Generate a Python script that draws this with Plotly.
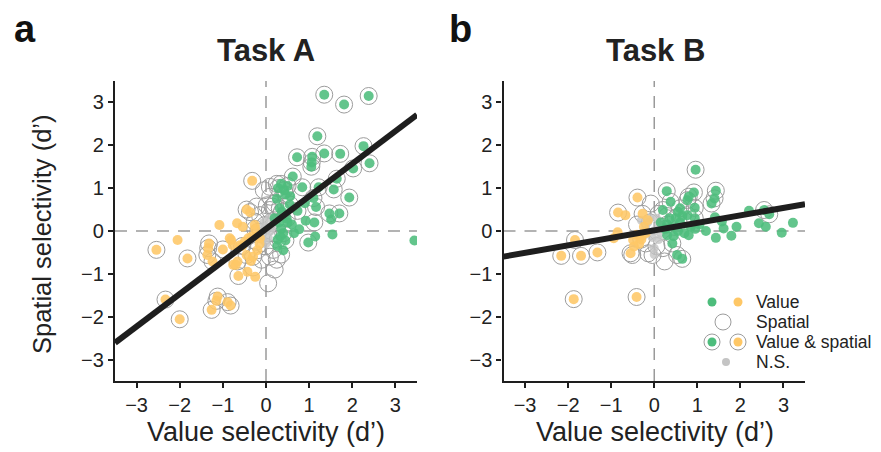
import plotly.graph_objects as go

W, H = 881, 452

# ---------------- Task A data ----------------
a_both_x = [1.35, 1.81, 2.38, 1.19, 2.26, 0.72, 1.07, 1.35, 1.72, 2.40, 1.06, 1.05, 2.02, 1.64, 0.62,
            1.57, 1.22, 0.84, 1.93, 1.10, 1.16, 1.47, 1.70, 1.12, 0.98, 0.73,
            0.28, 0.35, 0.42, 0.50, 0.45, 0.32, 0.37, 0.55, 0.30, 0.48, 0.27, 0.45, 0.40,
            -0.32, -0.45, -0.37, -2.54, -1.82, -1.32, -1.34, -1.36, -1.24, -1.00, -0.66, -0.64,
            -2.33, -2.00, -1.12, -1.15, -0.89, -0.82, -1.26, -0.45, -0.30, -0.20, -0.55, -0.25]
a_both_y = [3.18, 2.95, 3.15, 2.21, 1.98, 1.72, 1.73, 1.81, 1.80, 1.58, 1.60, 1.50, 1.46, 1.22, 1.27,
            0.97, 1.02, 1.02, 0.78, 0.77, 0.56, 0.41, 0.41, 0.20, -0.27, 0.47,
            1.00, 1.10, 0.95, 1.05, 0.85, 0.53, 0.45, 0.62, 0.20, 0.29, -0.20, -0.22, -0.05,
            1.17, 0.50, 0.44, -0.44, -0.64, -0.29, -0.40, -0.56, -0.71, -0.43, -0.71, -1.05,
            -1.60, -2.06, -1.53, -1.63, -1.66, -1.74, -1.84, -0.56, -0.60, -0.45, -0.35, 0.05]
a_value_x = [1.51, 0.92, 0.77, 1.54, 1.14, 3.44, 0.56, 0.50, 0.35, 0.33, 0.26, 0.60, 0.65, 0.20, 0.40,
             0.25, 0.90,
             -1.08, -0.67, -0.54, -2.05, -0.81, -0.77, -0.70, -0.43, -0.25, -0.84, -0.49, -0.41,
             -0.33, -0.22, -0.14, -0.26, -0.60, -0.76, -0.35, -0.15]
a_value_y = [0.27, 0.24, 0.04, -0.08, -0.13, -0.22, 0.81, 0.20, 0.05, -0.13, -0.35, 0.15, -0.05, 0.30, -0.45,
             0.75, 0.65,
             0.14, 0.18, 0.10, -0.21, -0.21, -0.33, -0.79, -0.95, -1.07, -0.17, -0.25, -0.17,
             -0.13, -0.13, -0.17, 0.14, -0.33, -0.79, -0.70, -0.30]
a_spatial_x = [-0.22, 0.02, 0.21, 0.09, -0.14, -0.26, -0.02, 0.13, -0.18, 0.05, -0.22, -0.02, 0.17,
               0.09, -0.10, 0.25, 0.05, 0.09, 0.25, 0.15, 0.10, -0.05, 0.20, -0.30, 0.35]
a_spatial_y = [0.57, 0.60, 0.64, 0.49, 0.37, 0.22, 0.14, 0.22, -0.02, -0.05, -0.25, -0.36, -0.44,
               -0.60, -0.67, -0.67, -1.22, 1.03, 1.10, 0.57, 0.80, 0.95, -0.90, -0.85, -0.55]
a_ns_x = [0.00, -0.10, 0.10, -0.05, 0.05, 0.15, -0.15, 0.00, 0.08, -0.08]
a_ns_y = [0.10, -0.05, 0.00, 0.20, -0.15, 0.10, 0.05, -0.30, 0.30, -0.20]
a_slope, a_intercept = 0.76, 0.05

# ---------------- Task B data ----------------
b_both_x = [0.96, 0.29, 0.92, 0.80, 0.77, 1.43, 1.40, 1.33, 0.38, 0.20, 0.60, 0.94, 0.77, 0.94,
            2.55, 2.67, 0.42, 0.53, 0.65, 0.50, 0.30,
            -0.39, -0.84, -0.27, -1.84, -2.16, -1.70, -1.32, -0.55, -1.87, -0.41, -0.30]
b_both_y = [1.43, 0.93, 0.90, 0.80, 0.72, 0.94, 0.76, 0.64, 0.68, 0.49, 0.53, 0.54, 0.37, 0.30,
            0.49, 0.39, -0.29, -0.56, -0.65, 0.30, 0.15,
            0.78, 0.43, 0.40, -0.21, -0.58, -0.58, -0.50, -0.52, -1.59, -1.54, -0.20]
b_value_x = [1.41, 2.20, 2.43, 2.59, 3.22, 2.96, 1.91, 1.61, 1.79, 1.43, 1.57, 0.25, 0.40, 0.55,
             0.70, 0.85, 0.60, 0.30, 0.45, 0.95, 1.05, 0.15, 0.80, 0.65, 0.35, 0.55, 1.20,
             -0.67, -0.85, -0.94, -0.49, -0.47, -0.40, -0.31, -0.24, -0.15, -0.20, -0.35]
b_value_y = [0.32, 0.47, 0.18, 0.10, 0.19, -0.04, 0.10, 0.06, -0.11, -0.16, 0.22, 0.05, 0.10, 0.00,
             -0.05, 0.10, 0.20, -0.10, -0.12, 0.05, 0.15, 0.20, -0.10, 0.35, 0.30, 0.45, 0.00,
             0.37, -0.03, -0.17, -0.21, -0.36, -0.09, -0.13, 0.10, 0.25, -0.05, -0.30]
b_spatial_x = [-0.08, -0.20, -0.14, 0.24, 0.10, 0.30, -0.10, 0.05, 0.20, -0.40, -0.04, -0.51]
b_spatial_y = [0.64, -0.29, -0.52, -0.71, 0.40, 0.35, 0.20, -0.35, -0.40, 0.15, -0.56, -0.56]
b_ns_x = [-0.20, -0.10, 0.00, 0.10, -0.05, 0.15, -0.25, 0.05, 0.00, 0.00, -0.15, 0.20, 0.10, -0.30]
b_ns_y = [0.10, 0.30, 0.00, 0.15, -0.15, -0.05, -0.10, 0.30, -0.40, -0.55, 0.20, 0.10, -0.20, 0.25]
b_slope, b_intercept = 0.175, 0.015

tick_vals = [-3, -2, -1, 0, 1, 2, 3]
axis_range = [-3.5, 3.5]

GREEN = "#4dbd7c"
ORANGE = "#fec766"
RING = "#9c9c9c"
NS = "#c4c4c4"
DARK = "#1e1e1e"
FONT = "Liberation Sans Narrow, Liberation Sans, Arial, sans-serif"
FONT_R = "Liberation Sans, Arial, sans-serif"


def colors(xs):
    return [GREEN if x > 0 else ORANGE for x in xs]


def add_panel(fig, xa, ya, both_x, both_y, val_x, val_y, sp_x, sp_y, ns_x, ns_y, slope, icpt):
    ring = dict(symbol="circle", size=17, color="rgba(0,0,0,0)", line=dict(color=RING, width=1))
    fig.add_trace(go.Scatter(x=sp_x, y=sp_y, mode="markers", marker=ring, xaxis=xa, yaxis=ya))
    fig.add_trace(go.Scatter(x=both_x, y=both_y, mode="markers", marker=ring, xaxis=xa, yaxis=ya))
    fig.add_trace(go.Scatter(x=ns_x, y=ns_y, mode="markers",
                             marker=dict(size=9, color=NS, opacity=0.8), xaxis=xa, yaxis=ya))
    fig.add_trace(go.Scatter(x=val_x, y=val_y, mode="markers",
                             marker=dict(size=10, color=colors(val_x), opacity=0.88),
                             xaxis=xa, yaxis=ya))
    fig.add_trace(go.Scatter(x=both_x, y=both_y, mode="markers",
                             marker=dict(size=10, color=colors(both_x), opacity=0.88),
                             xaxis=xa, yaxis=ya))
    lx = list(axis_range)
    ly = [slope * v + icpt for v in lx]
    fig.add_trace(go.Scatter(x=lx, y=ly, mode="lines", line=dict(color=DARK, width=6),
                             xaxis=xa, yaxis=ya))


fig = go.Figure()
add_panel(fig, "x", "y", a_both_x, a_both_y, a_value_x, a_value_y,
          a_spatial_x, a_spatial_y, a_ns_x, a_ns_y, a_slope, a_intercept)
add_panel(fig, "x2", "y2", b_both_x, b_both_y, b_value_x, b_value_y,
          b_spatial_x, b_spatial_y, b_ns_x, b_ns_y, b_slope, b_intercept)

# pixel layout
A_L, A_R = 115, 417
B_L, B_R = 503.5, 805
P_T, P_B = 81, 381

axis_common = dict(range=axis_range, tickvals=tick_vals, showline=True, linecolor=DARK,
                   linewidth=2.2, ticks="outside", ticklen=5, tickwidth=1.5, tickcolor=DARK,
                   showgrid=False, zeroline=False, tickfont=dict(family=FONT, size=20, color="#222"))

fig.update_layout(
    width=W, height=H, autosize=False,
    margin=dict(l=0, r=0, t=0, b=0),
    paper_bgcolor="white", plot_bgcolor="white",
    showlegend=False,
    xaxis=dict(domain=[A_L / W, A_R / W], anchor="y", **axis_common),
    yaxis=dict(domain=[1 - P_B / H, 1 - P_T / H], anchor="x", **axis_common),
    xaxis2=dict(domain=[B_L / W, B_R / W], anchor="y2", **axis_common),
    yaxis2=dict(domain=[1 - P_B / H, 1 - P_T / H], anchor="x2", **axis_common),
)

# dashed zero lines
shapes = []
for xr, yr in (("x", "y"), ("x2", "y2")):
    shapes.append(dict(type="line", xref=xr, yref=yr + " domain", x0=0, x1=0, y0=0, y1=1,
                       line=dict(color="#9a9a9a", width=1.5, dash="12px,9px"), layer="below"))
    shapes.append(dict(type="line", xref=xr + " domain", yref=yr, x0=0, x1=1, y0=0, y1=0,
                       line=dict(color="#9a9a9a", width=1.5, dash="12px,9px"), layer="below"))


# legend symbols (pixel-positioned shapes)
def circ(px, py, r, fill, line_color=None):
    return dict(type="circle", xref="paper", yref="paper", xsizemode="pixel", ysizemode="pixel",
                xanchor=px / W, yanchor=1 - py / H, x0=-r, x1=r, y0=-r, y1=r,
                fillcolor=fill, line=dict(color=line_color or "rgba(0,0,0,0)", width=1))


shapes += [
    circ(712, 302, 4.5, GREEN), circ(738, 302, 4.5, ORANGE),
    circ(723, 322, 8, "rgba(0,0,0,0)", RING),
    circ(712, 342, 8, "rgba(0,0,0,0)", RING), circ(712, 342, 4.5, GREEN),
    circ(738, 342, 8, "rgba(0,0,0,0)", RING), circ(738, 342, 4.5, ORANGE),
    circ(726, 362, 4, NS),
]
fig.update_layout(shapes=shapes)

ann = []


def text(px, py, s, size, family, bold=False, xanchor="center", angle=0, color="#222"):
    ann.append(dict(x=px / W, y=1 - py / H, xref="paper", yref="paper", text=f"<b>{s}</b>" if bold else s,
                    showarrow=False, xanchor=xanchor, yanchor="middle", textangle=angle,
                    font=dict(family=family, size=size, color=color)))


text(25, 29, "a", 38, FONT_R, bold=True, color="#111")
text(460, 29, "b", 38, FONT_R, bold=True, color="#111")
text(266, 50, "Task A", 31, FONT_R, bold=True)
text(655, 50, "Task B", 31, FONT_R, bold=True)
text(266, 432, "Value selectivity (d’)", 27, FONT)
text(655, 432, "Value selectivity (d’)", 27, FONT)
text(42, 234, "Spatial selectivity (d’)", 25.5, FONT, angle=-90)
text(754, 302, "Value", 17.5, FONT_R, xanchor="left")
text(754, 322, "Spatial", 17.5, FONT_R, xanchor="left")
text(754, 342, "Value &amp; spatial", 17.5, FONT_R, xanchor="left")
text(754, 362, "N.S.", 17.5, FONT_R, xanchor="left")
fig.update_layout(annotations=ann)

fig.write_html("out.html", config={"displayModeBar": False},
               post_script="document.body.style.margin='0';document.body.style.overflow='hidden';")
